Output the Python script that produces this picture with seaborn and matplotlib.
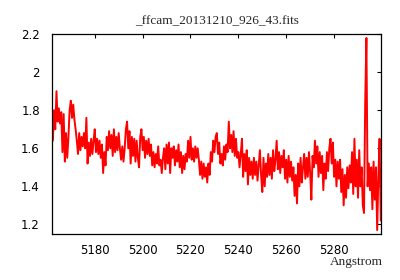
import numpy as np
import pandas as pd
import matplotlib
matplotlib.use("Agg")
import matplotlib.pyplot as plt
from matplotlib.ticker import FuncFormatter
import seaborn as sns

title = "_ffcam_20131210_926_43.fits"
xlabel = "Angstrom"
wave_start = 5162.5
wave_step = 0.5
flux = [
    1.64, 1.80, 1.70, 1.90, 1.74, 1.81, 1.73, 1.79, 1.58, 1.78,
    1.53, 1.68, 1.55, 1.66, 1.80, 1.85, 1.76, 1.83, 1.75, 1.70,
    1.64, 1.57, 1.68, 1.59, 1.66, 1.61, 1.68, 1.60, 1.76, 1.52,
    1.63, 1.56, 1.65, 1.57, 1.64, 1.70, 1.58, 1.65, 1.57, 1.64,
    1.55, 1.62, 1.47, 1.58, 1.51, 1.66, 1.59, 1.69, 1.60, 1.67,
    1.56, 1.70, 1.58, 1.66, 1.59, 1.68, 1.60, 1.54, 1.61, 1.53,
    1.60, 1.70, 1.74, 1.60, 1.69, 1.52, 1.66, 1.56, 1.65, 1.53,
    1.64, 1.55, 1.50, 1.66, 1.70, 1.59, 1.66, 1.55, 1.64, 1.57,
    1.65, 1.56, 1.62, 1.51, 1.58, 1.50, 1.57, 1.52, 1.61, 1.51,
    1.54, 1.47, 1.55, 1.60, 1.49, 1.62, 1.52, 1.63, 1.47, 1.60,
    1.55, 1.61, 1.51, 1.59, 1.53, 1.62, 1.50, 1.58, 1.47, 1.56,
    1.49, 1.57, 1.53, 1.64, 1.55, 1.66, 1.54, 1.60, 1.53, 1.61,
    1.55, 1.60, 1.54, 1.46, 1.53, 1.44, 1.52, 1.45, 1.50, 1.42,
    1.52, 1.46, 1.58, 1.53, 1.64, 1.58, 1.66, 1.68, 1.57, 1.63,
    1.52, 1.57, 1.51, 1.61, 1.54, 1.62, 1.58, 1.74, 1.60, 1.67,
    1.58, 1.69, 1.56, 1.65, 1.55, 1.58, 1.50, 1.57, 1.65, 1.45,
    1.57, 1.48, 1.59, 1.41, 1.55, 1.46, 1.53, 1.44, 1.55, 1.46,
    1.53, 1.43, 1.51, 1.59, 1.46, 1.37, 1.55, 1.40, 1.52, 1.45,
    1.57, 1.46, 1.55, 1.44, 1.59, 1.48, 1.54, 1.64, 1.49, 1.58,
    1.47, 1.56, 1.50, 1.59, 1.44, 1.54, 1.42, 1.56, 1.45, 1.53,
    1.43, 1.50, 1.35, 1.46, 1.31, 1.52, 1.40, 1.55, 1.42, 1.50,
    1.57, 1.44, 1.55, 1.45, 1.58, 1.47, 1.33, 1.56, 1.50, 1.64,
    1.52, 1.61, 1.45, 1.58, 1.47, 1.56, 1.38, 1.52, 1.44, 1.58,
    1.48, 1.60, 1.65, 1.52, 1.63, 1.45, 1.54, 1.40, 1.53, 1.44,
    1.54, 1.37, 1.49, 1.30, 1.46, 1.34, 1.50, 1.39, 1.51, 1.42,
    1.58, 1.36, 1.65, 1.40, 1.54, 1.34, 1.59, 1.40, 1.50, 1.30,
    1.26, 1.84, 2.18, 1.40, 1.52, 1.38, 1.50, 1.28, 1.53, 1.33,
    1.50, 1.17, 1.45, 1.65, 1.22,
]
x_ticks = [5180, 5200, 5220, 5240, 5260, 5280]
y_ticks = [1.2, 1.4, 1.6, 1.8, 2.0, 2.2]

wave = wave_start + wave_step * np.arange(len(flux))
df = pd.DataFrame({"wave": wave, "flux": flux})

sns.set_style("white")
plt.rcParams["font.family"] = ["DejaVu Sans"]

fig = plt.figure(figsize=(4.0, 2.8), dpi=100)
ax = fig.add_axes([0.131, 0.164, 0.8215, 0.716])

sns.lineplot(data=df, x="wave", y="flux", color="red", linewidth=1.4,
             estimator=None, sort=False, ax=ax)

ax.set_xlim(5162.3, 5299.6)
ax.set_ylim(1.149, 2.203)
ax.set_xticks(x_ticks)
ax.set_yticks(y_ticks)
ax.yaxis.set_major_formatter(FuncFormatter(lambda v, p: f"{v:g}"))
ax.tick_params(direction="in", length=3, width=0.8, top=True, right=True,
               labelsize=8.5, colors="black")
ax.tick_params(axis="y", pad=9)
ax.tick_params(axis="x", pad=7)
for s in ax.spines.values():
    s.set_visible(True)
    s.set_color("black")
    s.set_linewidth(0.9)

ax.set_ylabel("")
ax.set_xlabel(xlabel, family="Liberation Serif", fontsize=9.5, ha="right", va="center")
ax.xaxis.set_label_coords(1.005, -0.14)
ax.set_title(title, family="Liberation Serif", fontsize=9.5, pad=7)

fig.savefig("out.png", dpi=100, facecolor="white")
